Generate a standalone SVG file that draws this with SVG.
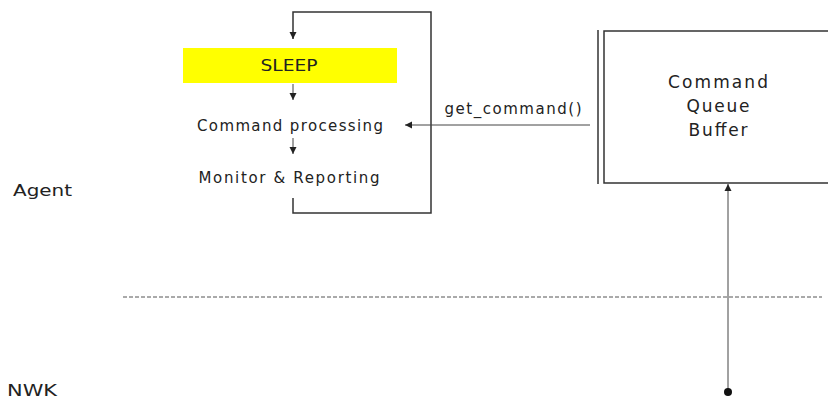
<svg xmlns="http://www.w3.org/2000/svg" width="828" height="401" viewBox="0 0 828 401">
<style>
text{font-family:"DejaVu Sans",Verdana,sans-serif;font-size:15px;fill:#222}
.big{font-size:17px}
.ln{fill:none;stroke:#333;stroke-width:1.5}
.thin{fill:none;stroke:#444;stroke-width:1}
</style>
<defs>
<marker id="ah" markerWidth="8" markerHeight="8" refX="7" refY="4" orient="auto" markerUnits="userSpaceOnUse">
<path d="M0,0.5 L7,4 L0,7.5 Z" fill="#222"/>
</marker>
</defs>
<rect width="828" height="401" fill="#fff"/>
<g id="labels">
<text x="13" y="196" textLength="59" lengthAdjust="spacingAndGlyphs">Agent</text>
<text x="7" y="396" textLength="50" lengthAdjust="spacingAndGlyphs">NWK</text>
</g>
<g id="sleep">
<rect x="183" y="48" width="214" height="35" fill="#ffff00"/>
<text x="289" y="71" text-anchor="middle" font-size="14" textLength="57" lengthAdjust="spacingAndGlyphs">SLEEP</text>
</g>
<g id="command-processing">
<text x="290" y="131" text-anchor="middle" textLength="186" lengthAdjust="spacing">Command processing</text>
</g>
<g id="monitor-reporting">
<text x="289" y="183" text-anchor="middle" textLength="181" lengthAdjust="spacing">Monitor &amp; Reporting</text>
</g>
<g id="command-queue">
<line class="ln" x1="598" y1="30" x2="598" y2="184"/>
<path class="ln" d="M830,31 H604 V183 H830"/>
<text class="big" x="718" y="88" text-anchor="middle" textLength="100" lengthAdjust="spacing">Command</text>
<text class="big" x="718" y="112" text-anchor="middle" textLength="63" lengthAdjust="spacing">Queue</text>
<text class="big" x="718" y="136" text-anchor="middle" textLength="59" lengthAdjust="spacing">Buffer</text>
</g>
<g id="connectors">
<path class="ln" d="M293,198 V213 H431 V12 H293 V39" marker-end="url(#ah)"/>
<line class="thin" x1="293" y1="84" x2="293" y2="100" marker-end="url(#ah)"/>
<line class="thin" x1="293" y1="138" x2="293" y2="154" marker-end="url(#ah)"/>
<line class="thin" x1="590" y1="125" x2="405" y2="125" marker-end="url(#ah)"/>
<text x="513" y="114" text-anchor="middle" textLength="137" lengthAdjust="spacing">get_command()</text>
<line class="thin" x1="728" y1="392" x2="728" y2="184" marker-end="url(#ah)"/>
<circle cx="728" cy="392" r="4" fill="#111"/>
<line x1="123" y1="297" x2="822" y2="297" stroke="#555" stroke-width="1" stroke-dasharray="4,2"/>
</g>
</svg>
